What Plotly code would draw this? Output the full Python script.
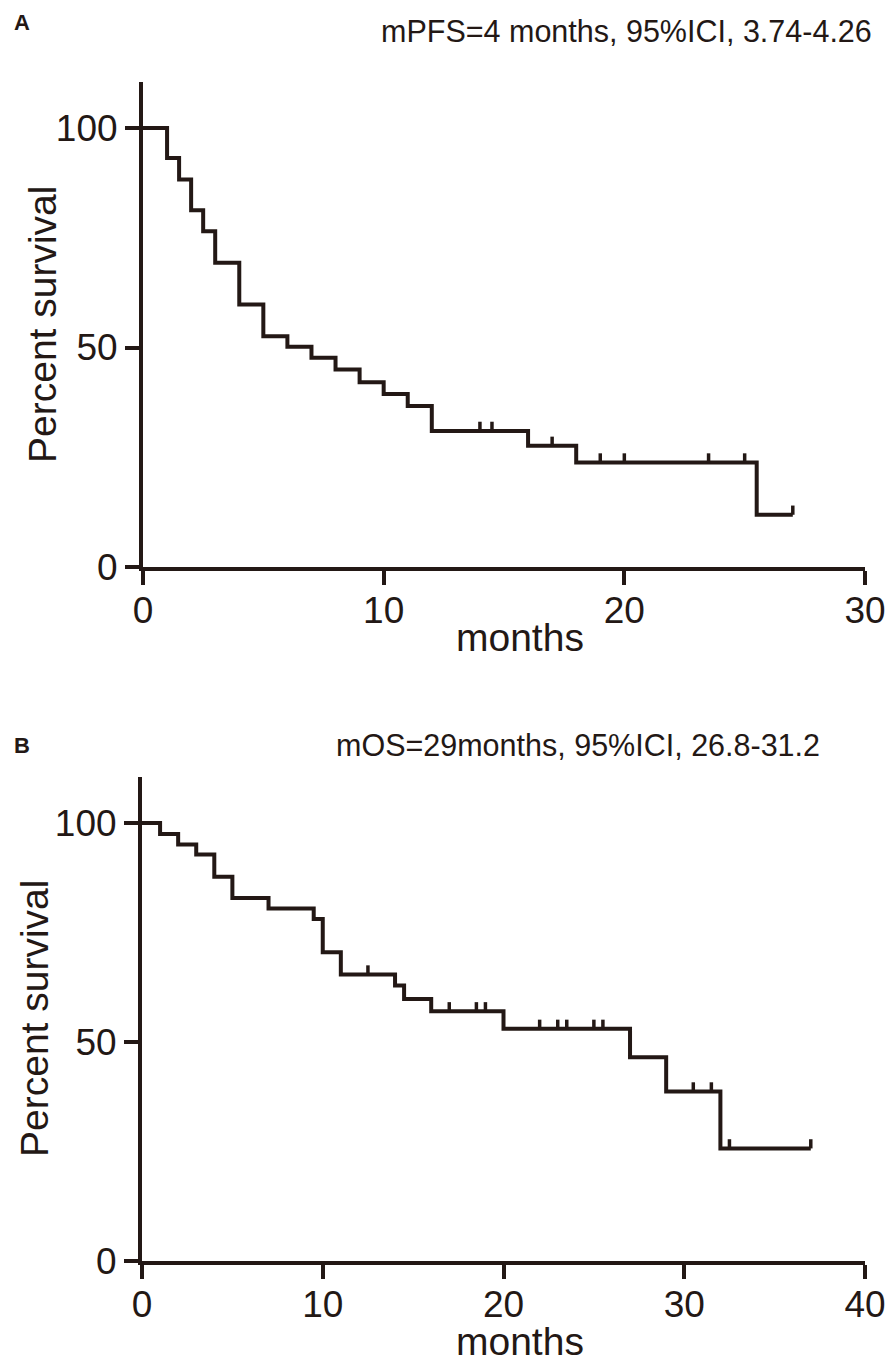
import numpy as np
import plotly.graph_objects as go

# Panel A - progression free survival (step points: time, percent surviving)
pfs_time = [0, 1, 1.5, 2, 2.5, 3, 4, 5, 6, 7, 8, 9, 10, 11, 12, 16, 18, 25.5, 27]
pfs_surv = [100, 93.2, 88.3, 81.3, 76.5, 69.3, 59.8, 52.6, 50.2, 47.7, 45.0, 42.1,
            39.4, 36.7, 31.0, 27.6, 23.8, 11.9, 11.9]
pfs_censor = [14, 14.5, 17, 19, 20, 23.5, 25, 27]

# Panel B - overall survival
os_time = [0, 1, 2, 3, 4, 5, 7, 9.5, 10, 11, 14, 14.5, 16, 20, 27, 29, 32, 37]
os_surv = [100, 97.5, 95.1, 92.8, 87.7, 82.9, 80.5, 78.1, 70.5, 65.4, 62.9, 59.8,
           57.0, 53.0, 46.5, 38.7, 25.7, 25.7]
os_censor = [12.5, 17, 18.5, 19, 22, 23, 23.5, 25, 25.5, 30.5, 31.5, 32.5, 37]

y_ticks = [0, 50, 100]
pfs_xticks = [0, 10, 20, 30]
os_xticks = [0, 10, 20, 30, 40]

title_a = "mPFS=4 months, 95%ICI, 3.74-4.26"
title_b = "mOS=29months, 95%ICI, 26.8-31.2"

INK = "#231815"
FONT = "Liberation Sans, Arial, sans-serif"
# the page body has an 8px margin, so the figure is shifted by that much
M = 8
W, H = 895 - M, 1365 - M


def surv_at(times, surv, t):
    i = np.searchsorted(times, t, side="right") - 1
    return surv[i]


def px(x):
    return (x - M) / W


def py(y):
    return 1 - (y - M) / H


fig = go.Figure()

for k, (t, s, c) in enumerate([(pfs_time, pfs_surv, pfs_censor),
                               (os_time, os_surv, os_censor)]):
    xa = "x" if k == 0 else "x2"
    ya = "y" if k == 0 else "y2"
    fig.add_trace(go.Scatter(x=t, y=s, mode="lines", line_shape="hv",
                             line=dict(color=INK, width=4),
                             xaxis=xa, yaxis=ya, cliponaxis=False,
                             showlegend=False, hoverinfo="skip"))
    cy = [surv_at(np.array(t), s, v) for v in c]
    fig.add_trace(go.Scatter(x=c, y=cy, mode="markers",
                             marker=dict(size=0.1, color=INK),
                             error_y=dict(type="data", symmetric=False,
                                          array=[2.1] * len(c),
                                          arrayminus=[0] * len(c),
                                          color=INK, thickness=3.5, width=0),
                             xaxis=xa, yaxis=ya, cliponaxis=False,
                             showlegend=False, hoverinfo="skip"))

axis_common = dict(showline=True, linewidth=4, linecolor=INK, ticks="outside",
                   ticklen=14, tickwidth=4, tickcolor=INK, showgrid=False,
                   zeroline=False, automargin=False,
                   tickfont=dict(family=FONT, size=37, color=INK))

fig.update_layout(
    template="none",
    width=W, height=H,
    margin=dict(l=0, r=0, t=0, b=0, pad=0),
    paper_bgcolor="white", plot_bgcolor="white",
    xaxis=dict(domain=[px(143), px(865)], range=[0, 30], tickvals=pfs_xticks,
               anchor="y", ticklabelstandoff=-6, **axis_common),
    yaxis=dict(domain=[py(567), py(82)], range=[0, 110.5], tickvals=y_ticks,
               anchor="x", **axis_common),
    xaxis2=dict(domain=[px(142), px(865)], range=[0, 40], tickvals=os_xticks,
                anchor="y2", ticklabelstandoff=-6, **axis_common),
    yaxis2=dict(domain=[py(1261), py(777)], range=[0, 110.5], tickvals=y_ticks,
                anchor="x2", **axis_common),
)

ann = [
    dict(text="<b>A</b>", x=px(12), y=py(22), size=22, anchor="left", angle=0),
    dict(text="<b>B</b>", x=px(12), y=py(745), size=22, anchor="left", angle=0),
    dict(text=title_a, x=px(626), y=py(31), size=30.5, anchor="center", angle=0),
    dict(text=title_b, x=px(578), y=py(745), size=30.5, anchor="center", angle=0),
    dict(text="Percent survival", x=px(43), y=py(325), size=39, anchor="center", angle=-90),
    dict(text="Percent survival", x=px(35), y=py(1019), size=39, anchor="center", angle=-90),
    dict(text="months", x=px(520), y=py(637), size=39, anchor="center", angle=0),
    dict(text="months", x=px(520), y=py(1341), size=39, anchor="center", angle=0),
]
for a in ann:
    fig.add_annotation(text=a["text"], x=a["x"], y=a["y"], xref="paper", yref="paper",
                       xanchor=a["anchor"], yanchor="middle", textangle=a["angle"],
                       showarrow=False, font=dict(family=FONT, size=a["size"], color=INK))

fig.write_html("out.html")
